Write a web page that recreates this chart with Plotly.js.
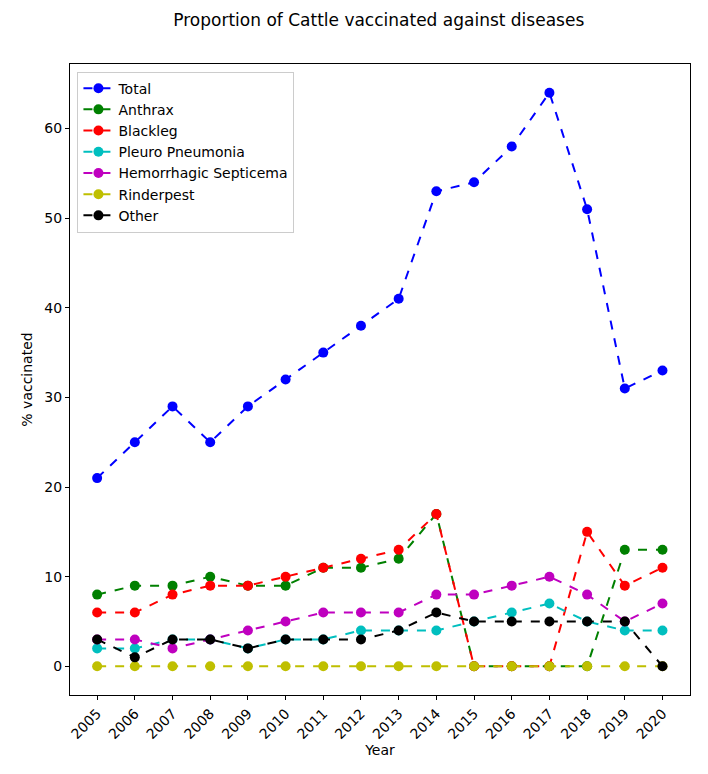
<!DOCTYPE html>
<html><head><meta charset="utf-8">
<script src="https://cdn.plot.ly/plotly-3.0.1.min.js"></script>
<style>body{margin:0}</style></head>
<body><div id="plot" style="width:708px;height:774px"></div>
<script>
const years = [2005,2006,2007,2008,2009,2010,2011,2012,2013,2014,2015,2016,2017,2018,2019,2020];
const total = [21,25,29,25,29,32,35,38,41,53,54,58,64,51,31,33];
const anthrax = [8,9,9,10,9,9,11,11,12,17,0,0,0,0,13,13];
const blackleg = [6,6,8,9,9,10,11,12,13,17,0,0,0,15,9,11];
const pleuro = [2,2,3,3,2,3,3,4,4,4,5,6,7,5,4,4];
const hemorrhagic = [3,3,2,3,4,5,6,6,6,8,8,9,10,8,5,7];
const rinderpest = [0,0,0,0,0,0,0,0,0,0,0,0,0,0,0,0];
const other = [3,1,3,3,2,3,3,3,4,6,5,5,5,5,5,0];

const series = [
  ['Total', total, '#0000ff'],
  ['Anthrax', anthrax, '#008000'],
  ['Blackleg', blackleg, '#ff0000'],
  ['Pleuro Pneumonia', pleuro, '#00bfbf'],
  ['Hemorrhagic Septicema', hemorrhagic, '#bf00bf'],
  ['Rinderpest', rinderpest, '#bfbf00'],
  ['Other', other, '#000000']
];

const traces = series.map(([name, y, color]) => ({
  x: years, y: y, name: name, type: 'scatter', mode: 'lines+markers',
  line: {color: color, width: 2, dash: 'dash'},
  marker: {color: color, size: 10}
}));

const axisStyle = {showgrid: false, zeroline: false, showline: true, mirror: true,
  linecolor: 'black', linewidth: 1, ticks: 'outside', ticklen: 4, tickcolor: 'black',
  tickfont: {size: 14}};

Plotly.newPlot('plot', traces, {
  width: 708, height: 774,
  font: {family: 'DejaVu Sans', size: 14, color: 'black'},
  title: {text: 'Proportion of Cattle vaccinated against diseases', x: 0.535, y: 0.982, font: {size: 17}},
  margin: {l: 70, r: 18, t: 64, b: 79},
  showlegend: true,
  legend: {x: 0.012, y: 0.988, bordercolor: '#cccccc', borderwidth: 1, bgcolor: 'white', font: {size: 14}, tracegroupgap: 0},
  xaxis: Object.assign({}, axisStyle, {range: [-0.72 + 2005, 15.73 + 2005], tickvals: years,
    ticktext: years.map(String), tickangle: -45, title: {text: 'Year', standoff: 4, font: {size: 14}}}),
  yaxis: Object.assign({}, axisStyle, {range: [-3.2, 67.2], tickvals: [0,10,20,30,40,50,60],
    title: {text: '% vaccinated', standoff: 8, font: {size: 14}}}),
  plot_bgcolor: 'white', paper_bgcolor: 'white'
}, {staticPlot: true});
</script></body></html>
